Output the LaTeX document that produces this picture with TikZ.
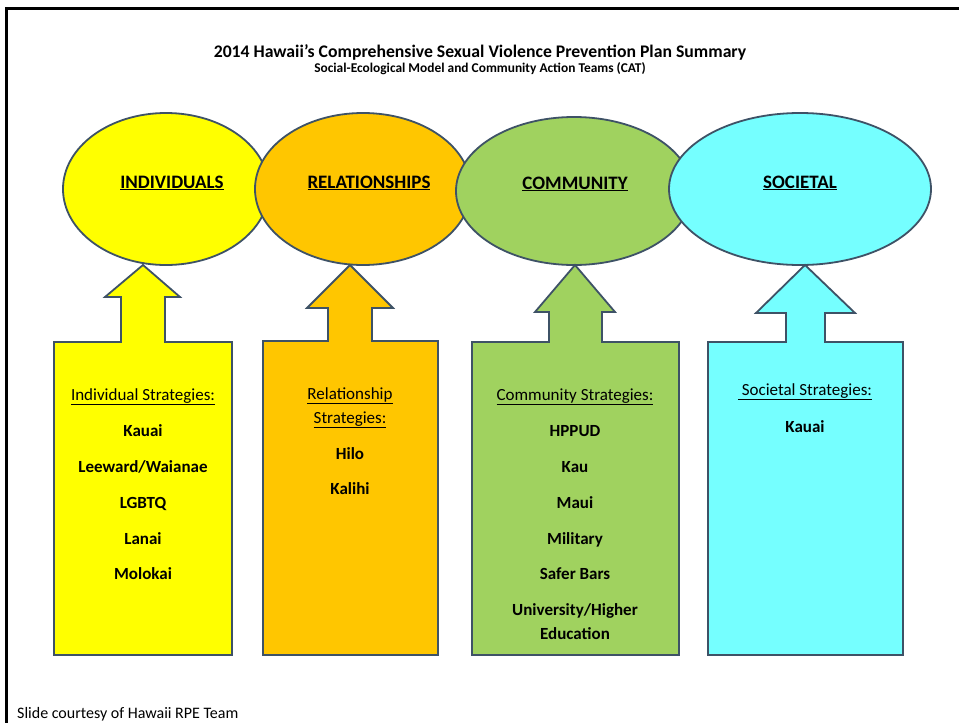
\documentclass[tikz,border=0pt]{standalone}
\usepackage{fontspec}
\setmainfont{Carlito}
\usetikzlibrary{shapes.geometric}
\definecolor{cyel}{HTML}{FFFF00}
\definecolor{corg}{HTML}{FFC600}
\definecolor{cgrn}{HTML}{A0D25F}
\definecolor{ccyn}{HTML}{75FFFF}
\definecolor{cedge}{HTML}{3E5266}
\tikzset{
  oval/.style={ellipse, draw=cedge, line width=1.8pt, inner sep=0pt},
  shapeline/.style={draw=cedge, line width=1.8pt, line join=miter},
  headtxt/.style={anchor=base, font=\fontsize{19}{22}\selectfont\bfseries},
  captxt/.style={anchor=base, font=\fontsize{17}{20}\selectfont},
  itemtxt/.style={anchor=base, font=\fontsize{17}{20}\selectfont\bfseries},
}
\begin{document}
\begin{tikzpicture}[x=1pt,y=-1pt]
\useasboundingbox (0,0) rectangle (959,723);
\fill[white] (0,0) rectangle (959,723);
% frame
\draw[line width=2.2pt] (6.5,723) -- (6.5,8.5) -- (959,8.5);
% titles
\node[anchor=base, font=\fontsize{17.7}{21}\selectfont\bfseries] (title) at (480,57.5) {2014 Hawaii’s Comprehensive Sexual Violence Prevention Plan Summary};
\node[anchor=base, font=\fontsize{13.4}{16}\selectfont\bfseries] (subtitle) at (480,72.5) {Social-Ecological Model and Community Action Teams (CAT)};
% ellipses
\node[oval, fill=cyel, minimum width=206pt, minimum height=152pt] (e1) at (166,189) {};
\node[oval, fill=corg, minimum width=216pt, minimum height=152pt] (e2) at (363,189) {};
\node[oval, fill=cgrn, minimum width=236pt, minimum height=148pt] (e3) at (574,191) {};
\node[oval, fill=ccyn, minimum width=262pt, minimum height=152pt] (e4) at (800,189) {};
\node[headtxt] (h1) at (172,188) {\underline{INDIVIDUALS}};
\node[headtxt] (h2) at (369,188) {\underline{RELATIONSHIPS}};
\node[headtxt] (h3) at (575,189) {\underline{COMMUNITY}};
\node[headtxt] (h4) at (800,188) {\underline{SOCIETAL}};
% arrow-boxes
\draw[shapeline, fill=cyel] (54,655) -- (54,342) -- (121,342) -- (121,297) -- (105,297) -- (143,265) -- (180,297) -- (165,297) -- (165,342) -- (232,342) -- (232,655) -- cycle;
\draw[shapeline, fill=corg] (263,655) -- (263,341) -- (328,341) -- (328,308) -- (307,308) -- (350,265) -- (393,308) -- (372,308) -- (372,341) -- (438,341) -- (438,655) -- cycle;
\draw[shapeline, fill=cgrn] (472,655) -- (472,342) -- (549,342) -- (549,312) -- (535,312) -- (575,265) -- (615,312) -- (602,312) -- (602,342) -- (679,342) -- (679,655) -- cycle;
\draw[shapeline, fill=ccyn] (708,655) -- (708,342) -- (786,342) -- (786,313) -- (756,313) -- (805,265) -- (855,313) -- (825,313) -- (825,342) -- (903,342) -- (903,655) -- cycle;
% box 1
\node[captxt] (a0) at (143,400) {\underline{Individual Strategies:}};
\node[itemtxt] (a1) at (143,436) {Kauai};
\node[itemtxt] (a2) at (143,472) {Leeward/Waianae};
\node[itemtxt] (a3) at (143,508) {LGBTQ};
\node[itemtxt] (a4) at (143,544) {Lanai};
\node[itemtxt] (a5) at (143,579) {Molokai};
% box 2
\node[captxt] (b0) at (350,399) {\underline{Relationship}};
\node[captxt] (b1) at (350,423) {\underline{Strategies:}};
\node[itemtxt] (b2) at (350,459) {Hilo};
\node[itemtxt] (b3) at (350,494) {Kalihi};
% box 3
\node[captxt] (c0) at (575,400) {\underline{Community Strategies:}};
\node[itemtxt] (c1) at (575,436) {HPPUD};
\node[itemtxt] (c2) at (575,472) {Kau};
\node[itemtxt] (c3) at (575,508) {Maui};
\node[itemtxt] (c4) at (575,544) {Military};
\node[itemtxt] (c5) at (575,579) {Safer Bars};
\node[itemtxt] (c6) at (575,615) {University/Higher};
\node[itemtxt] (c7) at (575,639) {Education};
% box 4
\node[captxt] (d0) at (805,395) {\underline{\ Societal Strategies:}};
\node[itemtxt] (d1) at (805,432) {Kauai};
% footer
\node[anchor=base west, inner sep=0pt, font=\fontsize{16}{19}\selectfont] (foot) at (17,718) {Slide courtesy of Hawaii RPE Team};
\end{tikzpicture}
\end{document}
